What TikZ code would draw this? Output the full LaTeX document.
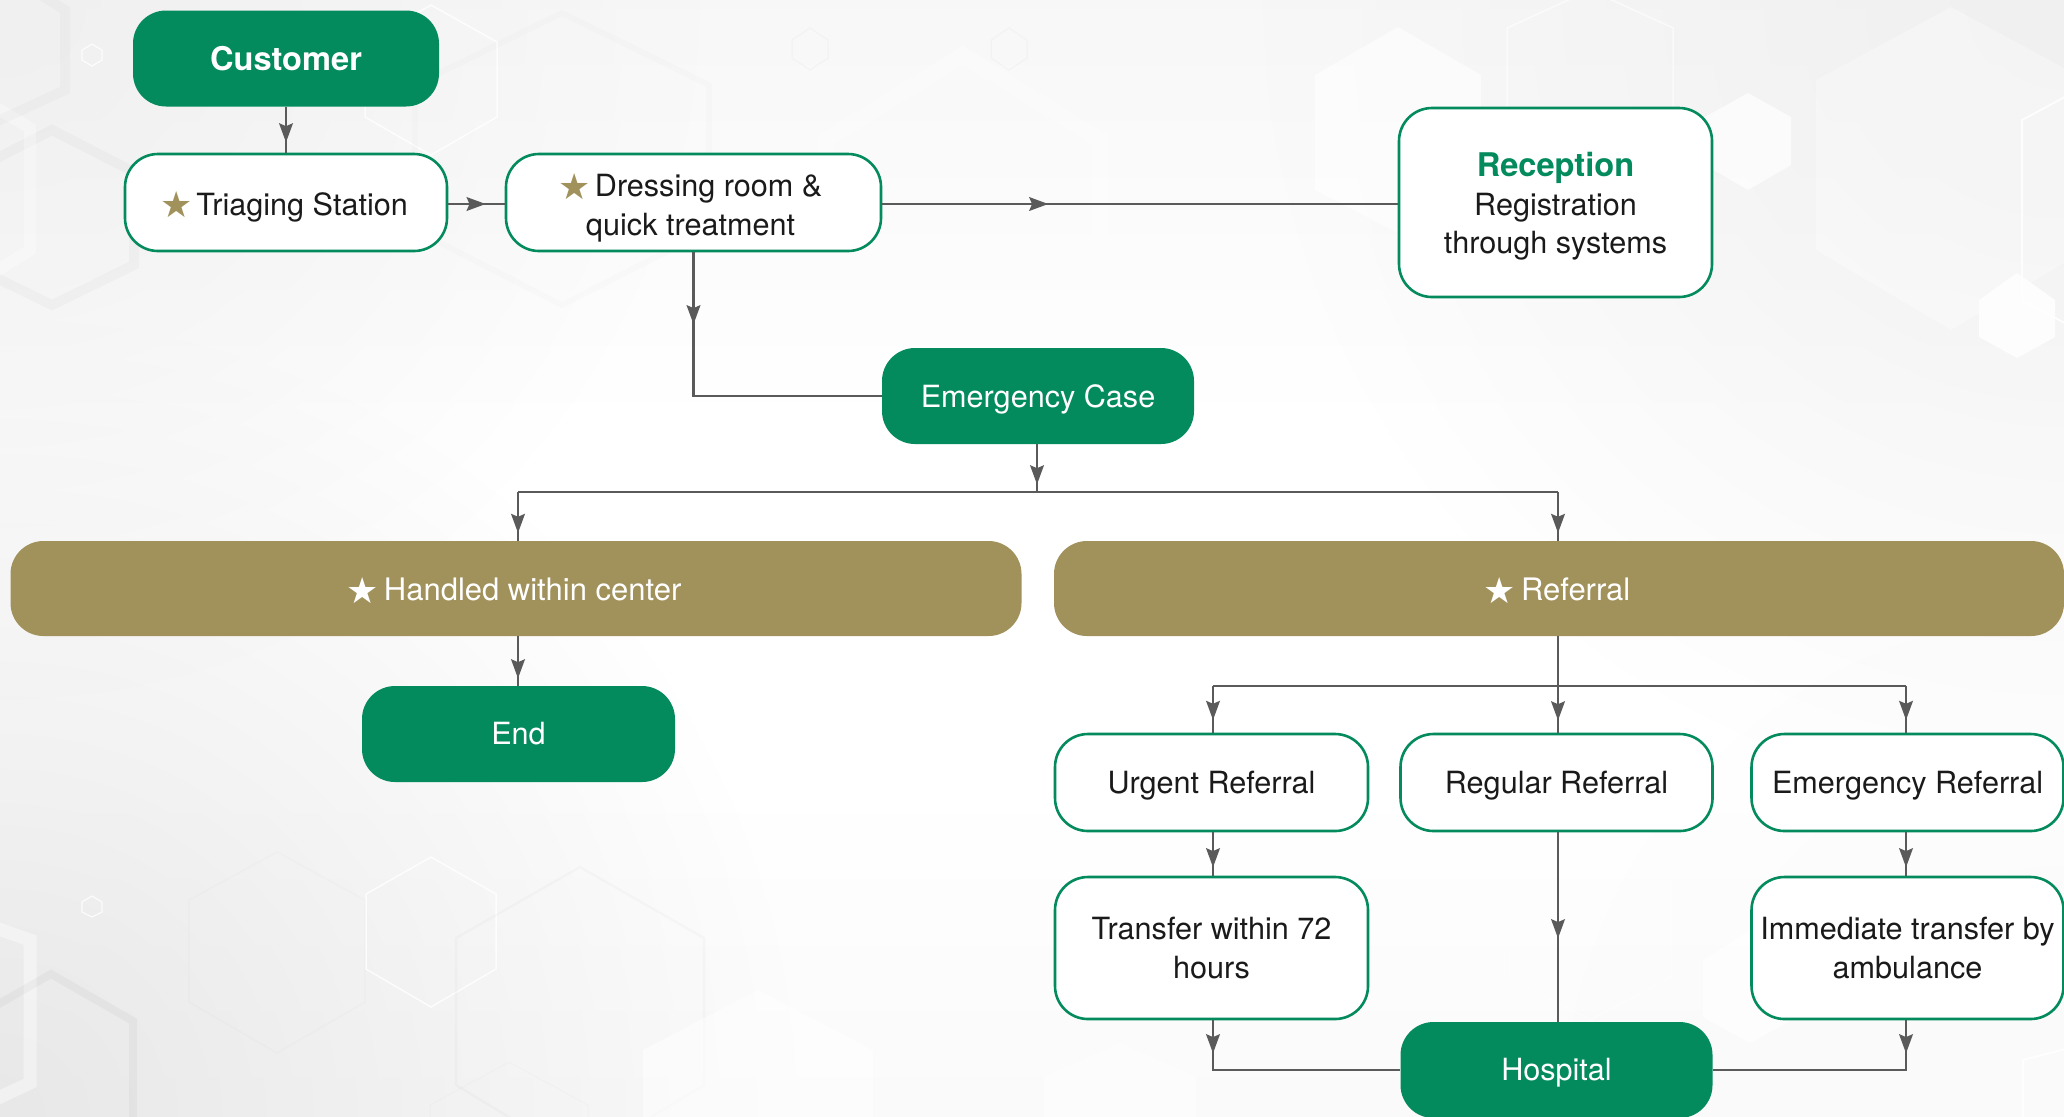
\documentclass[tikz,border=0pt]{standalone}
\usepackage{fontspec}
\setmainfont{TeX Gyre Heros}
\newfontfamily\symf{DejaVu Sans}
\usetikzlibrary{arrows.meta,decorations.markings,fadings}
\definecolor{brandgreen}{HTML}{038A5D}
\definecolor{brandgold}{HTML}{A1915A}
\definecolor{linegrey}{HTML}{5A5A5A}
\definecolor{inktext}{HTML}{1A1A1A}
\tikzfading[name=softc,inner color=transparent!0,outer color=transparent!100]
\newcommand{\hexa}[7][]{%
  % opts; cx; halfw; top; v1; v2; bottom
  \path[#1] (#2,#4) -- ({#2+#3},#5) -- ({#2+#3},#6) -- (#2,#7) -- ({#2-#3},#6) -- ({#2-#3},#5) -- cycle;}
\newcommand{\goldstar}{\smash{\raisebox{-1.2pt}{\symf\fontsize{18}{18}\selectfont\textcolor{brandgold}{★}}}\hspace{2pt}}
\newcommand{\whitestar}{\smash{\raisebox{-1.2pt}{\symf\fontsize{18}{18}\selectfont ★}}\hspace{2.5pt}}
\newcommand{\ts}[1]{\rule{0pt}{#1}}
\tikzset{
  flowtip/.tip={Stealth[length=9.5pt,width=6.8pt,inset=1.4pt]},
  boxbase/.style={rectangle,rounded corners=16.5pt,align=center,inner sep=0pt,
    font=\fontsize{15.3}{19.4}\selectfont},
  whitebox/.style={boxbase,draw=brandgreen,line width=1.3pt,fill=white,text=inktext},
  greenbox/.style={boxbase,fill=brandgreen,text=white},
  goldbox/.style={boxbase,fill=brandgold,text=white,font=\fontsize{15.5}{19.4}\selectfont},
  dims/.style 2 args={minimum width=#1*0.5pt,minimum height=#2*0.5pt},
  conn/.style={draw=linegrey,line width=1.4pt},
  mid/.style={postaction={decorate,decoration={markings,
    mark=at position #1 with {\arrow[linegrey]{flowtip}}}}},
  darkband/.style 2 args={draw=black,draw opacity=#2,line width=#1*0.5pt},
  lightband/.style 2 args={draw=white,draw opacity=#2,line width=#1*0.5pt},
  whitefill/.style={fill=white,fill opacity=#1},
}
\begin{document}
\begin{tikzpicture}[x=0.5pt,y=-0.5pt]
\useasboundingbox (0,0) rectangle (2064,1116);
\clip (0,0) rectangle (2064,1116);
% ---------- background
\fill[white] (0,0) rectangle (2064,1116);
\shade[top color=black!3,bottom color=white] (0,0) rectangle (2064,430);
\shade[top color=white,bottom color=black!2] (0,780) rectangle (2064,1116);
\fill[black!9,path fading=softc] (0,1116) circle (800);
\fill[black!6,path fading=softc] (0,0) circle (700);
\fill[black!6,path fading=softc] (2064,0) circle (800);
\fill[black!2,path fading=softc] (2064,1116) circle (500);
% top left
\hexa[darkband={10}{.025}]{52}{82}{130}{172}{265}{305}
\hexa[lightband={12}{.3}]{-50}{80}{80}{128}{250}{300}
\hexa[darkband={10}{.02}]{0}{65}{-30}{10}{90}{120}
\hexa[lightband={1.2}{.8}]{92}{10}{44}{50}{60}{66}
\hexa[lightband={1.5}{.8}]{431}{66}{5}{42}{117}{155}
\hexa[darkband={6}{.012}]{562}{147}{13}{85}{230}{305}
\hexa[darkband={1.5}{.02}]{810}{18}{28}{40}{58}{70}
\hexa[darkband={1.5}{.02}]{1009}{18}{28}{40}{58}{70}
\hexa[lightband={16}{.3}]{963}{137}{55}{140}{260}{350}
% top right
\hexa[whitefill=.6]{1398}{83}{27}{75}{190}{233}
\hexa[lightband={1.5}{.6}]{1590}{83}{-10}{28}{140}{180}
\hexa[whitefill=.7]{1748}{43}{93}{117}{165}{190}
\hexa[whitefill=.3]{1951}{135}{7}{80}{250}{330}
\hexa[lightband={2}{.8}]{2115}{93}{70}{120}{300}{350}
\hexa[whitefill=.85]{2017}{38}{273}{300}{337}{358}
% bottom left
\hexa[lightband={13}{.4}]{-70}{100}{905}{940}{1083}{1130}
\hexa[darkband={8}{.03}]{51}{82}{974}{1021}{1150}{1200}
\hexa[lightband={1.2}{.8}]{92}{10}{896}{902}{912}{917}
\hexa[darkband={2}{.012}]{277}{88}{852}{900}{1002}{1053}
\hexa[lightband={1.5}{.8}]{431}{65}{857}{894}{969}{1007}
\hexa[darkband={2.5}{.02}]{580}{124}{867}{938}{1085}{1160}
\hexa[darkband={1}{.015}]{509}{79}{1062}{1105}{1200}{1240}
% bottom centre and right
\hexa[whitefill=.55]{758}{115}{990}{1050}{1200}{1260}
\hexa[whitefill=.45]{1120}{76}{1043}{1077}{1180}{1210}
\hexa[lightband={1}{.6}]{1590}{81}{835}{880}{977}{1020}
\hexa[whitefill=.7]{1750}{47}{930}{960}{1017}{1043}
\hexa[lightband={2}{.8}]{2100}{77}{1040}{1060}{1200}{1240}
% ---------- nodes
\node[greenbox,dims={306}{96},font=\fontsize{16.3}{19.4}\selectfont\bfseries] (cust) at (286,58.5) {Customer};
\node[whitebox,dims={322}{97}] (tri) at (286,202.5) {\ts{16pt}\goldstar Triaging Station\hspace*{2pt}};
\node[whitebox,dims={375}{97}] (dress) at (693.5,202.5) {\ts{17pt}\goldstar Dressing room \&\hspace*{3pt}\\quick treatment\hspace*{3pt}};
\node[whitebox,dims={313}{189}] (rec) at (1555.5,202.5) {\ts{16pt}{\fontsize{16.3}{19.4}\selectfont\bfseries\textcolor{brandgreen}{Reception}}\\Registration\\through systems};
\node[greenbox,dims={312}{96}] (emg) at (1038,396) {\ts{15pt}Emergency Case};
\node[goldbox,dims={1011}{95}] (han) at (516,588.5) {\ts{12.5pt}\whitestar Handled within center\hspace*{2pt}};
\node[goldbox,dims={1010}{95}] (ref) at (1559,588.5) {\ts{12.5pt}\whitestar Referral\hspace*{2pt}};
\node[greenbox,dims={313}{96}] (fin) at (518.5,734) {End};
\node[whitebox,dims={313}{97}] (urg) at (1211.5,782.5) {\ts{14pt}Urgent Referral};
\node[whitebox,dims={312}{97}] (reg) at (1556.5,782.5) {\ts{14pt}Regular Referral};
\node[whitebox,dims={312}{97}] (erf) at (1907.5,782.5) {\ts{14pt}Emergency Referral};
\node[whitebox,dims={313}{142}] (tra) at (1211.5,948) {Transfer within 72\\hours};
\node[whitebox,dims={312}{142}] (imm) at (1907.5,948) {Immediate transfer by\\ambulance};
\node[greenbox,dims={312}{96}] (hos) at (1556.5,1070) {\ts{14pt}Hospital};
% ---------- junctions
\coordinate (jT) at (1037,492);
\coordinate (jH) at (518,492);
\coordinate (jR) at (1558,492);
\coordinate (kU) at (1213,686);
\coordinate (kE) at (1906,686);
\coordinate (kM) at (1558,686);
% ---------- connectors
\draw[conn,mid=17.75pt] (cust.south) -- (tri.north);
\draw[conn,mid=18.7pt] ([yshift=-0.75pt]tri.east) -- ([yshift=-0.75pt]dress.west);
\draw[conn,mid=83pt] ([yshift=-0.75pt]dress.east) -- ([yshift=-0.75pt]rec.west);
\draw[conn,mid=36pt] (dress.south) |- (emg.west);
\draw[conn,mid=20pt] (jT |- emg.south) -- (jT);
\draw[conn] (jH) -- (jR);
\draw[conn,mid=20.5pt] (jH) -- (jH |- han.north);
\draw[conn,mid=20.5pt] (jR) -- (jR |- ref.north);
\draw[conn,mid=21pt] (jH |- han.south) -- (jH |- fin.north);
\draw[conn,mid=42pt] (kM |- ref.south) -- (kM |- reg.north);
\draw[conn] (kU) -- (kE);
\draw[conn,mid=17pt] (kU) -- (kU |- urg.north);
\draw[conn,mid=17pt] (kE) -- (kE |- erf.north);
\draw[conn,mid=17.5pt] (kU |- urg.south) -- (kU |- tra.north);
\draw[conn,mid=17.5pt] (kE |- erf.south) -- (kE |- imm.north);
\draw[conn,mid=53pt] (kM |- reg.south) -- (kM |- hos.north);
\draw[conn,mid=16.5pt] (kU |- tra.south) |- (hos.west);
\draw[conn,mid=16.5pt] (kE |- imm.south) |- (hos.east);
\end{tikzpicture}
\end{document}
